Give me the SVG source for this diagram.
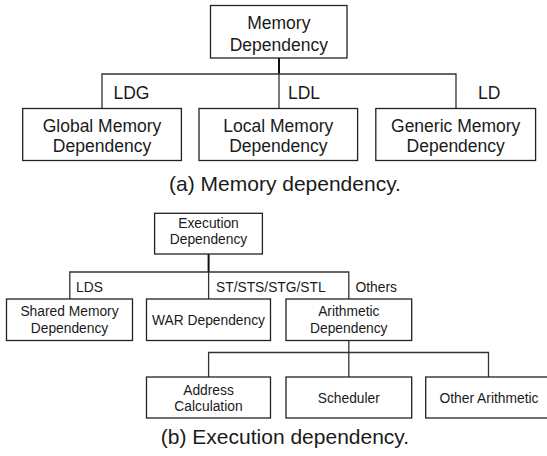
<svg xmlns="http://www.w3.org/2000/svg" width="547" height="456" viewBox="0 0 547 456">
  <style>
    .box { fill: #ffffff; stroke: #222222; stroke-width: 1.3; }
    .wire { fill: none; stroke: #333333; stroke-width: 1.3; }
    .stem { fill: none; stroke: #111111; stroke-width: 2; }
    text { font-family: "Liberation Sans", Arial, Helvetica, sans-serif; fill: #1a1a1a; }
    .big { font-size: 17.5px; text-anchor: middle; }
    .bigl { font-size: 17.5px; }
    .small { font-size: 13.8px; text-anchor: middle; }
    .smalll { font-size: 13.8px; }
    .cap { font-size: 21px; text-anchor: middle; }
  </style>
  <rect width="547" height="456" fill="#ffffff"/>

  <!-- (a) memory dependency tree -->
  <g id="connectors-a">
    <line class="stem" x1="279" y1="58" x2="279" y2="74"/>
    <polyline class="wire" points="102,108.5 102,74 456,74 456,108.5"/>
    <line class="wire" x1="279" y1="74" x2="279" y2="108.5"/>
    <text class="bigl" x="113.5" y="99">LDG</text>
    <text class="bigl" x="288" y="99">LDL</text>
    <text class="bigl" x="478" y="99">LD</text>
  </g>
  <g id="memory-dependency">
    <rect class="box" x="210.5" y="5.5" width="136.5" height="52.5"/>
    <text class="big" x="278.8" y="29.3">Memory</text>
    <text class="big" x="278.8" y="50.7">Dependency</text>
  </g>
  <g id="global-memory">
    <rect class="box" x="22.7" y="108.5" width="158.7" height="52"/>
    <text class="big" x="102" y="131.5">Global Memory</text>
    <text class="big" x="102" y="152">Dependency</text>
  </g>
  <g id="local-memory">
    <rect class="box" x="199" y="108.5" width="158.6" height="52"/>
    <text class="big" x="278.3" y="131.5">Local Memory</text>
    <text class="big" x="278.3" y="152">Dependency</text>
  </g>
  <g id="generic-memory">
    <rect class="box" x="375.8" y="108.5" width="159.8" height="52"/>
    <text class="big" x="455.7" y="131.5">Generic Memory</text>
    <text class="big" x="455.7" y="152">Dependency</text>
  </g>
  <text class="cap" x="285" y="191">(a) Memory dependency.</text>

  <!-- (b) execution dependency tree -->
  <g id="connectors-b">
    <line class="stem" x1="208.6" y1="254" x2="208.6" y2="272"/>
    <polyline class="wire" points="69.8,299 69.8,272 348.8,272 348.8,299"/>
    <line class="wire" x1="208.6" y1="272" x2="208.6" y2="299"/>
    <line class="wire" x1="348.8" y1="340.5" x2="348.8" y2="377"/>
    <polyline class="wire" points="208.6,377 208.6,352.5 488.5,352.5 488.5,377"/>
    <text class="smalll" x="76" y="291.7">LDS</text>
    <text class="smalll" x="216" y="291.7">ST/STS/STG/STL</text>
    <text class="smalll" x="355.5" y="291.7">Others</text>
  </g>
  <g id="execution-dependency">
    <rect class="box" x="154.6" y="213.3" width="107.8" height="40.7"/>
    <text class="small" x="208.5" y="227.5">Execution</text>
    <text class="small" x="208.5" y="244">Dependency</text>
  </g>
  <g id="shared-memory">
    <rect class="box" x="6.5" y="299" width="126" height="41.5"/>
    <text class="small" x="69.5" y="316.4">Shared Memory</text>
    <text class="small" x="69.5" y="332.9">Dependency</text>
  </g>
  <g id="war-dependency">
    <rect class="box" x="146.5" y="299" width="124" height="41.5"/>
    <text class="small" x="208.5" y="324.7">WAR Dependency</text>
  </g>
  <g id="arithmetic-dependency">
    <rect class="box" x="286" y="299" width="125.7" height="41.5"/>
    <text class="small" x="348.8" y="316.4">Arithmetic</text>
    <text class="small" x="348.8" y="332.9">Dependency</text>
  </g>
  <g id="address-calculation">
    <rect class="box" x="146.5" y="377" width="124" height="41"/>
    <text class="small" x="208.5" y="394.5">Address</text>
    <text class="small" x="208.5" y="410.5">Calculation</text>
  </g>
  <g id="scheduler">
    <rect class="box" x="286" y="377" width="125.7" height="41"/>
    <text class="small" x="348.8" y="402.5">Scheduler</text>
  </g>
  <g id="other-arithmetic">
    <rect class="box" x="425.7" y="377" width="130" height="41"/>
    <text class="small" x="489" y="402.5">Other Arithmetic</text>
  </g>
  <text class="cap" x="285" y="444">(b) Execution dependency.</text>
</svg>
